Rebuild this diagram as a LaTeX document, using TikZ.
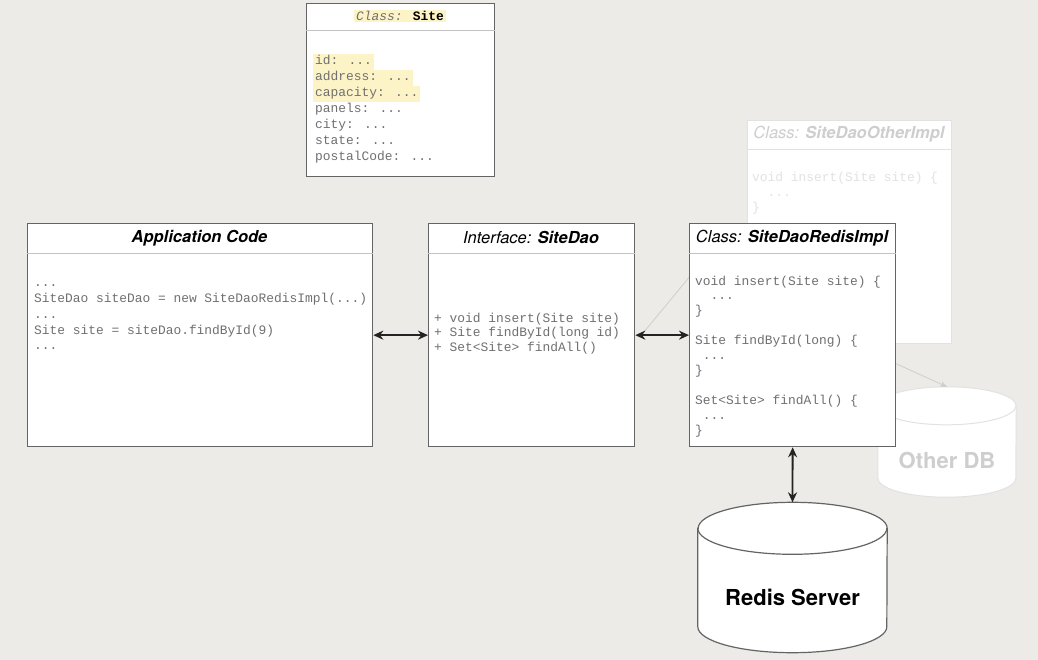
\documentclass[tikz,border=0pt]{standalone}
\usepackage{fontspec}
\setmainfont{TeX Gyre Heros}
\newfontfamily\codefont{Liberation Mono}
\usetikzlibrary{calc}
\usetikzlibrary{arrows.meta}

\definecolor{paper}{RGB}{236,235,232}
\definecolor{boxline}{RGB}{100,100,100}
\definecolor{sepgray}{RGB}{195,195,195}
\definecolor{codegray}{RGB}{112,112,112}
\definecolor{hlyellow}{RGB}{252,244,198}
\definecolor{ghostline}{RGB}{226,226,226}
\definecolor{ghosttext}{RGB}{206,206,206}
\definecolor{arrowgray}{RGB}{35,35,35}

% three dots, kept out of the loop lists
\newcommand{\tdots}{...}

\tikzset{
  umlbox/.style={draw=boxline, line width=1.3pt, fill=white, anchor=north west, inner sep=0pt},
  ghostbox/.style={draw=ghostline, line width=1pt, fill=white, anchor=north west, inner sep=0pt},
  sepline/.style={draw=sepgray, line width=1pt},
  boxtitle/.style={font=\fontsize{16.5}{19}\selectfont\itshape, inner sep=0pt},
  codeline/.style={font=\codefont\fontsize{12.9}{15}\selectfont, text=codegray, anchor=west,
    inner sep=0pt, text height=9pt, text depth=3pt},
  fieldline/.style={codeline, inner xsep=2pt, inner ysep=1pt, text height=10pt, text depth=4pt},
  dbline/.style={draw=boxline, line width=1.2pt, fill=white},
  link/.style={{Stealth[length=10pt,width=9pt]}-{Stealth[length=10pt,width=9pt]}, line width=1.8pt, draw=arrowgray},
}

\begin{document}
\begin{tikzpicture}[x=1pt, y=-1pt]
  \useasboundingbox [fill=paper] (0,0) rectangle (1038,660);

  % faded alternative implementation and database
  \node [minimum width=138pt, minimum height=110pt, inner sep=0pt] (otherdb) at (947,442) {};
  \draw [draw=ghostline, line width=1pt, fill=white] ($(otherdb.north west)+(0,-19pt)$) -- ($(otherdb.south west)+(0,19pt)$)
    arc [start angle=180, end angle=360, x radius=69pt, y radius=19pt] -- ($(otherdb.north east)+(0,-19pt)$)
    arc [start angle=0, end angle=180, x radius=69pt, y radius=19pt] -- cycle;
  \draw [draw=ghostline, line width=1pt] ($(otherdb.north west)+(0,-19pt)$) arc [start angle=180, end angle=360, x radius=69pt, y radius=19pt];
  \node [font=\fontsize{22}{26}\selectfont\bfseries, text=ghosttext] (otherdblabel) at (947,460) {Other DB};

  \node [ghostbox, minimum width=204pt, minimum height=223pt] (otherimpl) at (747,120) {};
  \draw [draw=ghostline, line width=1pt] ($(otherimpl.north west)+(0,-30pt)$) -- ($(otherimpl.north east)+(0,-30pt)$);
  \node [boxtitle, text=ghosttext] (otherimpltitle) at (849,134) {Class: \textbf{SiteDaoOtherImpl}};
  \foreach \t [count=\i] in {void insert(Site site) \{, \ \ \tdots, \}}
    \node [codeline, text=ghostline] (other-\i) at (752,{179+(\i-1)*14.9}) {\t};

  \coordinate (otherlink) at (720,240);
  \draw [-{Stealth[length=7pt,width=6pt]}, draw=ghosttext, line width=0.8pt] ($(otherimpl.south)+(3pt,0)$) -- (otherdb.north);

  % domain class
  \node [umlbox, minimum width=188pt, minimum height=173pt] (site) at (306,3) {};
  \draw [sepline] ($(site.north west)+(0,-28pt)$) -- ($(site.north east)+(0,-28pt)$);
  \node [font=\codefont\fontsize{12.9}{15}\selectfont, fill=hlyellow, inner xsep=2pt, inner ysep=1.5pt] (sitetitle) at (400,16)
    {\textcolor{codegray}{\textit{Class:}} \textbf{Site}};
  \foreach \f [count=\i] in {id: \tdots, address: \tdots, capacity: \tdots}
    \node [fieldline, fill=hlyellow] (field-\i) at (313,{62+(\i-1)*16}) {\f};
  \foreach \f [count=\i from 4] in {panels: \tdots, city: \tdots, state: \tdots, postalCode: \tdots}
    \node [fieldline] (field-\i) at (313,{62+(\i-1)*16}) {\f};

  % application code
  \node [umlbox, minimum width=345pt, minimum height=223pt] (app) at (27,223) {};
  \draw [sepline] ($(app.north west)+(0,-31pt)$) -- ($(app.north east)+(0,-31pt)$);
  \node [boxtitle] (apptitle) at (199.5,238) {\textbf{Application Code}};
  \foreach \t [count=\i] in {\tdots, SiteDao siteDao = new SiteDaoRedisImpl(\tdots), \tdots, Site site = siteDao.findById(9), \tdots}
    \node [codeline] (app-\i) at (34,{284+(\i-1)*15.7}) {\t};

  % interface
  \node [umlbox, minimum width=206pt, minimum height=223pt] (dao) at (428,223) {};
  \draw [sepline] ($(dao.north west)+(0,-31pt)$) -- ($(dao.north east)+(0,-31pt)$);
  \node [boxtitle] (daotitle) at (531,238) {Interface: \textbf{SiteDao}};
  \foreach \t [count=\i] in {+ void insert(Site site), + Site findById(long id), + Set<Site> findAll()}
    \node [codeline] (dao-\i) at (434,{319+(\i-1)*14.8}) {\t};

  % faded link, hidden behind the redis implementation
  \draw [draw=ghosttext, line width=0.8pt] ($(dao.east)+(6pt,0)$) -- (otherlink);

  % redis implementation
  \node [umlbox, minimum width=206pt, minimum height=223pt] (impl) at (689,223) {};
  \draw [sepline] ($(impl.north west)+(0,-31pt)$) -- ($(impl.north east)+(0,-31pt)$);
  \node [boxtitle] (impltitle) at (792,238) {Class: \textbf{SiteDaoRedisImpl}};
  \foreach \t [count=\i] in {void insert(Site site) \{, \ \ \tdots, \}, {}, Site findById(long) \{, \ \tdots, \}, {},
      Set<Site> findAll() \{, \ \tdots, \}}
    \node [codeline] (impl-\i) at (695,{282+(\i-1)*14.9}) {\t};

  % redis server
  \node [minimum width=189pt, minimum height=150pt, inner sep=0pt] (redis) at (792.5,577.5) {};
  \draw [dbline] ($(redis.north west)+(0,-26pt)$) -- ($(redis.south west)+(0,26pt)$)
    arc [start angle=180, end angle=360, x radius=94.5pt, y radius=26pt] -- ($(redis.north east)+(0,-26pt)$)
    arc [start angle=0, end angle=180, x radius=94.5pt, y radius=26pt] -- cycle;
  \draw [dbline, fill=none] ($(redis.north west)+(0,-26pt)$) arc [start angle=180, end angle=360, x radius=94.5pt, y radius=26pt];
  \node [font=\fontsize{22}{26}\selectfont\bfseries] (redislabel) at (792.5,597) {Redis Server};

  % connectors
  \draw [link] (app.east) -- (dao.west);
  \draw [link] (dao.east) -- (impl.west);
  \draw [link] (impl.south) -- (redis.north);
\end{tikzpicture}
\end{document}
